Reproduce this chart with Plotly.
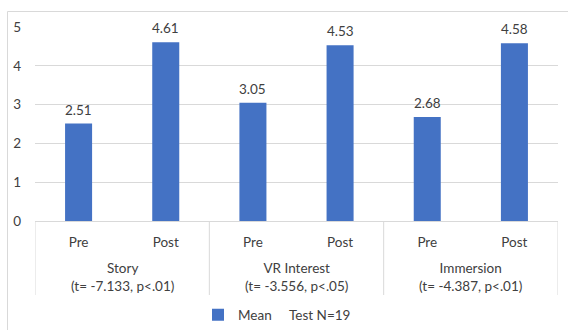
import plotly.graph_objects as go

# ---- data ----
groups = ["Story", "VR Interest", "Immersion"]
group_stats = ["(t= -7.133, p<.01)", "(t= -3.556, p<.05)", "(t= -4.387, p<.01)"]
phases = ["Pre", "Post"]
means = [2.51, 4.61, 3.05, 4.53, 2.68, 4.58]
y_ticks = [0, 1, 2, 3, 4, 5]
series_name = "Mean"
legend_note = "Test N=19"

# ---- styling ----
BAR = "#4472C4"
GRID = "#D9D9D9"
TXT = "#404040"
FONT = "Lato"
FS = 13.5

W, H = 568, 330
L, R, T, B = 35, 10, 27, 109
PW, PH = W - L - R, H - T - B

def px_to_paper_x(px):
    return (px - L) / PW

def px_to_paper_y(py):
    return (H - B - py) / PH

x_pos = list(range(len(means)))
tick_text = [p for _ in groups for p in phases]

fig = go.Figure()
fig.add_trace(go.Bar(
    x=x_pos, y=means, name=series_name,
    marker=dict(color=BAR, line=dict(width=0)),
    width=0.31,
    cliponaxis=False,
    showlegend=True,
    hoverinfo="y",
))

shapes = []
n_per = len(phases)
for i in range(len(groups) + 1):
    xb = i * n_per - 0.5
    shapes.append(dict(type="line", xref="x", yref="paper",
                       x0=xb, x1=xb, y0=0, y1=px_to_paper_y(295),
                       line=dict(color=GRID, width=1)))
shapes.append(dict(type="rect", xref="paper", yref="paper",
                   x0=px_to_paper_x(7.5), x1=px_to_paper_x(580),
                   y0=px_to_paper_y(345), y1=px_to_paper_y(11.5),
                   line=dict(color=GRID, width=1), fillcolor="rgba(0,0,0,0)",
                   layer="below"))

annotations = []
# data labels above bars
for xi, v in zip(x_pos, means):
    annotations.append(dict(x=xi, xref="x", y=v, yref="y",
                            text=f"{v:.2f}", showarrow=False,
                            xanchor="center", yanchor="bottom", yshift=4,
                            font=dict(family=FONT, size=FS, color=TXT)))
for gi, (g, s) in enumerate(zip(groups, group_stats)):
    cx = gi * n_per + (n_per - 1) / 2
    annotations.append(dict(x=cx, xref="x", y=px_to_paper_y(277), yref="paper",
                            text=f"{g}<br>{s}", showarrow=False,
                            xanchor="center", yanchor="middle",
                            font=dict(family=FONT, size=FS, color=TXT)))
annotations.append(dict(x=px_to_paper_x(287), xref="paper",
                        y=px_to_paper_y(315), yref="paper",
                        text=legend_note, showarrow=False,
                        xanchor="left", yanchor="middle",
                        font=dict(family=FONT, size=FS, color=TXT)))

fig.update_layout(
    width=W, height=H,
    margin=dict(l=L, r=R, t=T, b=B, pad=0, autoexpand=False),
    paper_bgcolor="white", plot_bgcolor="white",
    font=dict(family=FONT, size=FS, color=TXT),
    xaxis=dict(
        range=[-0.5, len(means) - 0.5],
        tickmode="array", tickvals=x_pos, ticktext=tick_text,
        showgrid=False, zeroline=False, automargin=False,
        showline=True, linecolor=GRID, linewidth=1,
        ticks="", ticklabelstandoff=9,
        tickfont=dict(family=FONT, size=FS, color=TXT),
        fixedrange=True,
    ),
    yaxis=dict(
        range=[0, 5], tickmode="array", tickvals=y_ticks,
        showgrid=True, gridcolor=GRID, gridwidth=1, automargin=False,
        zeroline=False, showline=False, ticks="",
        ticklabelstandoff=13,
        tickfont=dict(family=FONT, size=FS, color=TXT),
        fixedrange=True,
    ),
    legend=dict(orientation="h", x=px_to_paper_x(198), xanchor="left",
                y=px_to_paper_y(315), yanchor="middle",
                font=dict(family=FONT, size=FS, color=TXT),
                bgcolor="rgba(0,0,0,0)"),
    shapes=shapes,
    annotations=annotations,
)

fig.write_html("out.html", config={"displayModeBar": False},
               post_script="document.body.style.margin='0';")
